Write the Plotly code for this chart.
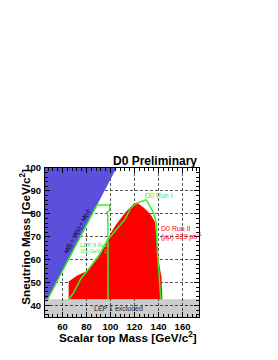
import plotly.graph_objects as go

# ---- data ----
# kinematic limit M(stop) = M(b) + M(sneutrino)
kin_stop = [47.7, 105.0]
kin_snu = [42.7, 100.0]

# LEP I excluded band (sneutrino mass)
lep1_band = [35.0, 42.7]

# D0 Run II excluded region (red)
run2_stop = [65.2, 65.2, 72.0, 80.5, 87.4, 95.7, 99.8, 104.0, 112.3, 119.2, 122.0,
             127.5, 133.0, 137.2, 138.6, 140.0, 142.5, 143.2]
run2_snu = [42.7, 50.5, 53.0, 55.1, 60.2, 66.0, 71.2, 74.8, 80.6, 84.3, 85.0,
            82.8, 80.0, 76.3, 68.3, 60.0, 52.0, 42.7]

# D0 Run I contour (green)
run1_stop = [65.2, 69.4, 72.2, 75.0, 81.8, 86.0, 90.1, 97.0, 105.4, 112.3, 116.4,
             119.2, 123.3, 129.7, 135.8, 138.0, 139.0, 141.9]
run1_snu = [42.7, 45.6, 48.5, 51.5, 55.9, 58.5, 61.5, 68.3, 73.4, 77.8, 82.1,
            83.6, 85.0, 86.1, 80.6, 76.3, 64.0, 42.7]

# LEP II contour (green)
lep2_stop = [47.7, 88.8, 99.3, 99.3, 97.3, 97.8, 98.0]
lep2_snu = [42.7, 83.9, 83.9, 81.5, 80.8, 79.5, 42.7]

x_range = [45.5, 173.7]
y_range = [35, 100]
x_ticks = [60, 80, 100, 120, 140, 160]
y_ticks = [40, 50, 60, 70, 80, 90, 100]

BLUE = "rgb(90,80,220)"
RED = "rgb(255,0,0)"
GREEN = "rgb(60,235,40)"
FONT = "Liberation Sans"

fig = go.Figure()

# blue kinematically forbidden region
fig.add_trace(go.Scatter(
    x=[x_range[0] - 20] + kin_stop + [x_range[0] - 20],
    y=[kin_snu[0]] + kin_snu + [kin_snu[-1]],
    fill="toself", fillcolor=BLUE, mode="lines", line=dict(width=0),
    hoverinfo="skip", showlegend=False))

# red D0 Run II region
fig.add_trace(go.Scatter(
    x=run2_stop, y=run2_snu, fill="toself", fillcolor=RED, mode="lines",
    line=dict(width=0, color=RED), hoverinfo="skip", showlegend=False))

# LEP II contour
fig.add_trace(go.Scatter(
    x=lep2_stop, y=lep2_snu, mode="lines", line=dict(color=GREEN, width=1.5),
    hoverinfo="skip", showlegend=False))

# D0 Run I contour
fig.add_trace(go.Scatter(
    x=run1_stop, y=run1_snu, mode="lines", line=dict(color=GREEN, width=1.5),
    hoverinfo="skip", showlegend=False))

# LEP I band
fig.add_shape(type="rect", xref="paper", x0=0, x1=1, yref="y",
              y0=lep1_band[0], y1=lep1_band[1], fillcolor="rgb(204,204,204)",
              line=dict(width=0), layer="below")

axis_common = dict(
    showline=True, linecolor="black", linewidth=1, mirror="ticks",
    ticks="inside", ticklen=5, tickcolor="black", tickwidth=1,
    showgrid=True, gridcolor="rgba(0,0,0,0.65)", gridwidth=1, griddash="3px,2px",
    zeroline=False, ticklabelstandoff=1,
    tickfont=dict(family=FONT, size=9.5, color="black", weight="bold"),
)

fig.update_xaxes(range=x_range, tickvals=x_ticks, ticktext=[str(v) for v in x_ticks],
                 minor=dict(ticks="inside", ticklen=3, dtick=4, tick0=60, tickcolor="black",
                            showgrid=False),
                 **axis_common)
fig.update_yaxes(range=y_range, tickvals=y_ticks, ticktext=[str(v) for v in y_ticks],
                 minor=dict(ticks="inside", ticklen=3, dtick=2, tick0=40, tickcolor="black",
                            showgrid=False),
                 **axis_common)

ann = []
ann.append(dict(text="<b>D0 Preliminary</b>", xref="paper", yref="paper", x=1.0, y=1.045,
                xanchor="right", yanchor="middle", showarrow=False,
                font=dict(family=FONT, size=12, color="black")))
ann.append(dict(text="<b>Scalar top Mass [GeV/c<sup>2</sup>]</b>", xref="paper", yref="paper",
                x=1.0, y=-0.135, xanchor="right", yanchor="middle", showarrow=False,
                font=dict(family=FONT, size=11.7, color="black")))
ann.append(dict(text="<b>Sneutrino Mass [GeV/c<sup>2</sup>]</b>", xref="paper", yref="paper",
                x=-0.135, y=1.01, xanchor="center", yanchor="top", textangle=-90,
                showarrow=False, font=dict(family=FONT, size=11.7, color="black")))
ann.append(dict(text="D0 Run I", x=140, y=88, xref="x", yref="y", showarrow=False,
                xanchor="center", yanchor="middle",
                font=dict(family=FONT, size=7, color=GREEN)))
ann.append(dict(text="D0 Run II", x=140.8, y=73.8, xref="x", yref="y", showarrow=False,
                xanchor="left", yanchor="middle",
                font=dict(family=FONT, size=7, color=RED)))
ann.append(dict(text="(μμ) 339 pb<sup>-1</sup>", x=140.3, y=70.2, xref="x", yref="y",
                showarrow=False, xanchor="left", yanchor="middle",
                font=dict(family=FONT, size=7, color=RED)))
ann.append(dict(text="LEP II ALO", x=73, y=66.4, xref="x", yref="y", showarrow=False,
                xanchor="left", yanchor="middle",
                font=dict(family=FONT, size=6, color=GREEN)))
ann.append(dict(text="100 GeV - 1", x=73, y=63.6, xref="x", yref="y", showarrow=False,
                xanchor="left", yanchor="middle",
                font=dict(family=FONT, size=5, color=GREEN)))
ann.append(dict(text="M(t̃) = M(b) + M(ν̃)", x=72.3, y=72.6, xref="x", yref="y",
                showarrow=False, xanchor="center", yanchor="middle", textangle=-62,
                font=dict(family=FONT, size=6, color="black")))
ann.append(dict(text="LEP 1 excluded", x=106.5, y=38.7, xref="x", yref="y",
                showarrow=False, xanchor="center", yanchor="middle",
                font=dict(family=FONT, size=7, color="rgb(40,40,40)")))

fig.update_layout(
    width=270, height=352, autosize=False,
    margin=dict(l=37, r=79, t=160, b=43, pad=0),
    paper_bgcolor="white", plot_bgcolor="white",
    annotations=ann, showlegend=False,
)

fig.write_html("out.html")
